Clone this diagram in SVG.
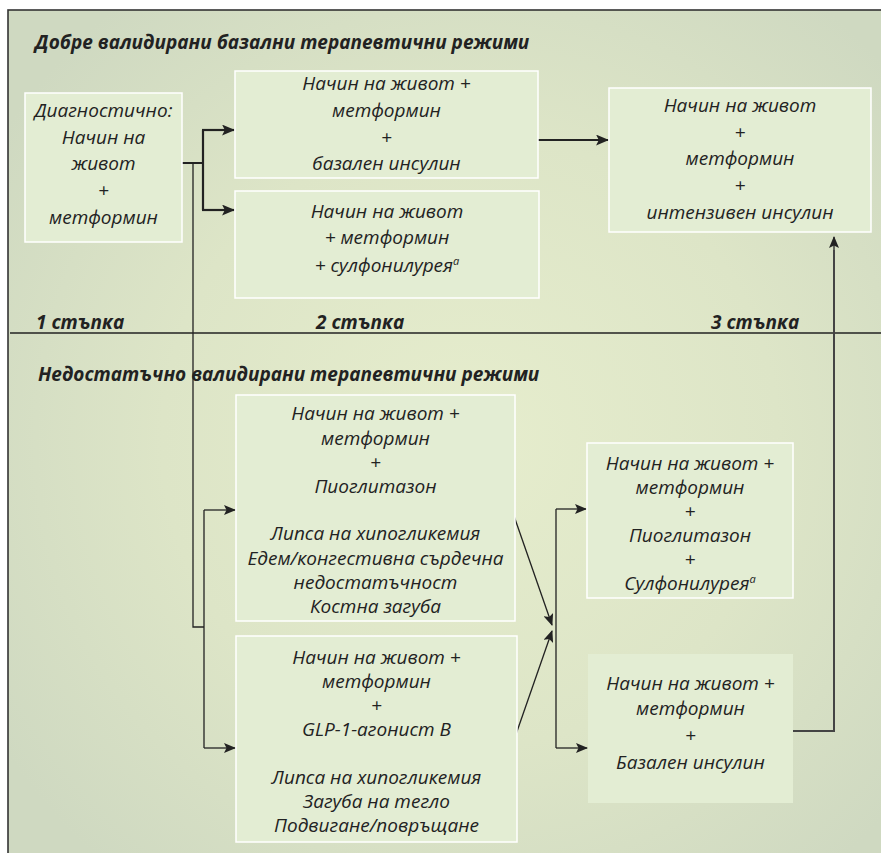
<svg xmlns="http://www.w3.org/2000/svg" width="881" height="853" viewBox="0 0 881 853">
<defs>
<radialGradient id="bg" cx="470" cy="440" r="560" gradientUnits="userSpaceOnUse">
<stop offset="0" stop-color="#e6edcd"/>
<stop offset="0.55" stop-color="#dde5c7"/>
<stop offset="1" stop-color="#cfd9c1"/>
</radialGradient>
<marker id="ah" viewBox="0 0 12 10" refX="11" refY="5" markerWidth="13" markerHeight="11" markerUnits="userSpaceOnUse" orient="auto">
<path d="M0,0 L12,5 L0,10 L2.5,5 z" fill="#222"/>
</marker>
<marker id="ahs" viewBox="0 0 12 10" refX="11" refY="5" markerWidth="12" markerHeight="10" markerUnits="userSpaceOnUse" orient="auto">
<path d="M0,0 L12,5 L0,10 L2.5,5 z" fill="#222"/>
</marker>
</defs>
<style>
.box{fill:#e3edd3;stroke:#ffffff;stroke-width:1.5}
.boxn{fill:#e3edd3}
.t{font-family:"Open Sans","Noto Sans","DejaVu Sans",sans-serif;font-style:italic;font-size:19px;fill:#222;text-anchor:middle}
.h{font-family:"Open Sans","Noto Sans","DejaVu Sans",sans-serif;font-style:italic;font-weight:bold;font-size:19px;fill:#222}
.sup{font-size:11px}
.thick{fill:none;stroke:#222;stroke-width:2.2}
.thin{fill:none;stroke:#222;stroke-width:1.3}
.grey{fill:none;stroke:#444;stroke-width:2}
</style>
<rect x="8" y="10" width="880" height="850" fill="url(#bg)" stroke="#333" stroke-width="1.6"/>
<line x1="10" y1="333" x2="881" y2="333" stroke="#222" stroke-width="1.6"/>
<text class="h" x="35" y="49">Добре валидирани базални терапевтични режими</text>
<text class="h" x="36" y="329">1 стъпка</text>
<text class="h" x="316" y="329">2 стъпка</text>
<text class="h" x="711" y="329">3 стъпка</text>
<text class="h" x="38" y="381">Недостатъчно валидирани терапевтични режими</text>
<g id="connectors">
<path class="thick" d="M182,163 H203 M203,130 V210"/>
<path class="thick" d="M202,130 H234" marker-end="url(#ah)"/>
<path class="thick" d="M202,210 H234" marker-end="url(#ah)"/>
<path class="thick" d="M538,140 H608" marker-end="url(#ah)"/>
<path class="thin" d="M193,163 V627 H204 M204,510 V748"/>
<path class="thin" d="M204,510 H235" marker-end="url(#ahs)"/>
<path class="thin" d="M204,748 H235" marker-end="url(#ahs)"/>
<path class="thin" d="M514,516 L552,625" marker-end="url(#ahs)"/>
<path class="thin" d="M514,740 L552,631" marker-end="url(#ahs)"/>
<path class="thin" d="M556,509 V748"/>
<path class="thin" d="M556,509 H586" marker-end="url(#ahs)"/>
<path class="thin" d="M556,748 H587" marker-end="url(#ahs)"/>
<path class="grey" d="M793,731 H834 V250"/>
<path class="thin" d="M834,250 V237" marker-end="url(#ahs)"/>
</g>
<g id="nodeA">
<rect class="box" x="25" y="93" width="157" height="149"/>
<text class="t" x="103.5" y="117">Диагностично:</text>
<text class="t" x="103.5" y="144">Начин на</text>
<text class="t" x="103.5" y="170">живот</text>
<text class="t" x="103.5" y="197">+</text>
<text class="t" x="103.5" y="224">метформин</text>
</g>
<g id="nodeB">
<rect class="box" x="235" y="71" width="303" height="107"/>
<text class="t" x="386.5" y="90">Начин на живот +</text>
<text class="t" x="386.5" y="117">метформин</text>
<text class="t" x="386.5" y="144">+</text>
<text class="t" x="386.5" y="170">базален инсулин</text>
</g>
<g id="nodeC">
<rect class="box" x="235" y="191" width="304" height="107"/>
<text class="t" x="387" y="218">Начин на живот</text>
<text class="t" x="387" y="244">+ метформин</text>
<text class="t" x="387" y="272">+ сулфонилурея<tspan class="sup" dy="-7">a</tspan></text>
</g>
<g id="nodeD">
<rect class="box" x="609" y="88" width="262" height="144"/>
<text class="t" x="740" y="112">Начин на живот</text>
<text class="t" x="740" y="139">+</text>
<text class="t" x="740" y="165">метформин</text>
<text class="t" x="740" y="192">+</text>
<text class="t" x="740" y="219">интензивен инсулин</text>
</g>
<g id="nodeE">
<rect class="box" x="236" y="395" width="279" height="226"/>
<text class="t" x="375.5" y="420">Начин на живот +</text>
<text class="t" x="375.5" y="445">метформин</text>
<text class="t" x="375.5" y="469">+</text>
<text class="t" x="375.5" y="493">Пиоглитазон</text>
<text class="t" x="375.5" y="540">Липса на хипогликемия</text>
<text class="t" x="375.5" y="565">Едем/конгестивна сърдечна</text>
<text class="t" x="375.5" y="589">недостатъчност</text>
<text class="t" x="375.5" y="613">Костна загуба</text>
</g>
<g id="nodeF">
<rect class="box" x="236" y="636" width="281" height="206"/>
<text class="t" x="376.5" y="664">Начин на живот +</text>
<text class="t" x="376.5" y="688">метформин</text>
<text class="t" x="376.5" y="712">+</text>
<text class="t" x="376.5" y="736">GLP-1-агонист B</text>
<text class="t" x="376.5" y="784">Липса на хипогликемия</text>
<text class="t" x="376.5" y="808">Загуба на тегло</text>
<text class="t" x="376.5" y="832">Подвигане/повръщане</text>
</g>
<g id="nodeG">
<rect class="box" x="587" y="443" width="206" height="155"/>
<text class="t" x="690" y="470">Начин на живот +</text>
<text class="t" x="690" y="494">метформин</text>
<text class="t" x="690" y="518">+</text>
<text class="t" x="690" y="542">Пиоглитазон</text>
<text class="t" x="690" y="566">+</text>
<text class="t" x="690" y="590">Сулфонилурея<tspan class="sup" dy="-7">a</tspan></text>
</g>
<g id="nodeH">
<rect class="boxn" x="588" y="654" width="205" height="149"/>
<text class="t" x="690.5" y="690">Начин на живот +</text>
<text class="t" x="690.5" y="715">метформин</text>
<text class="t" x="690.5" y="742">+</text>
<text class="t" x="690.5" y="769">Базален инсулин</text>
</g>
</svg>
